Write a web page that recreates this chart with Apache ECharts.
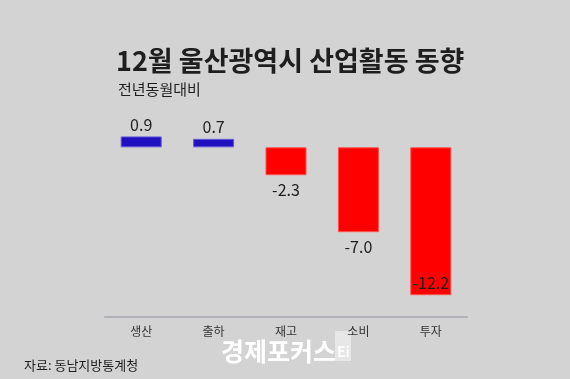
<!DOCTYPE html>
<html><head><meta charset="utf-8">
<script src="https://cdn.jsdelivr.net/npm/echarts@6/dist/echarts.min.js"></script>
<style>html,body{margin:0;padding:0;background:#d3d3d3}#c{width:570px;height:379px}</style>
</head><body><div id="c"></div>
<script>
const categories = ['생산', '출하', '재고', '소비', '투자'];
const values = [0.9, 0.7, -2.3, -7.0, -12.2];
const valueLabels = ['0.9', '0.7', '-2.3', '-7.0', '-12.2'];
const titleText = '12월 울산광역시 산업활동 동향';
const subtitleText = '전년동월대비';
const sourceText = '자료: 동남지방통계청';
const watermarkText = '경제포커스';

const FONT = '"Noto Sans CJK KR", "Noto Sans", sans-serif';
const chart = echarts.init(document.getElementById('c'));
const barData = values.map((v, i) => {
  const pos = v >= 0;
  const last = i === values.length - 1;
  return {
    value: v,
    itemStyle: pos ? { color: '#2010bf', borderColor: '#6458d8', borderWidth: 1 } : { color: '#ff0000', borderColor: '#ff5050', borderWidth: 1 },
    label: {
      show: true,
      formatter: valueLabels[i],
      position: pos ? 'top' : (last ? 'insideBottom' : 'bottom'),
      distance: pos ? 4 : (last ? 4 : 7),
      color: '#1e1e1e',
      fontSize: 16,
      fontFamily: FONT
    }
  };
});
chart.setOption({
  backgroundColor: '#d3d3d3',
  animation: false,
  title: [
    { text: titleText, left: 111, top: 42, textStyle: { fontSize: 27, fontWeight: 'bold', color: '#1e1e1e', fontFamily: FONT } },
    { text: subtitleText, left: 113, top: 77, textStyle: { fontSize: 15, fontWeight: 'normal', color: '#1e1e1e', fontFamily: FONT } },
    { text: sourceText, left: 19, top: 354, textStyle: { fontSize: 13, fontWeight: 'normal', color: '#1e1e1e', fontFamily: FONT } },
    { text: watermarkText, left: 216, top: 334, textStyle: { fontSize: 25, fontWeight: 'bold', color: '#ffffff', fontFamily: FONT } }
  ],
  graphic: [
    { type: 'rect', left: 335, top: 331, shape: { width: 16, height: 30 }, style: { fill: 'rgba(255,255,255,0.45)' } },
    { type: 'text', left: 337, top: 345, style: { text: 'Ei', fill: 'rgba(255,255,255,0.85)', font: 'bold 14px ' + FONT } }
  ],
  grid: [
    { left: 105, width: 362, top: 123.1, height: 193.9, containLabel: false }
  ],
  xAxis: [
    { type: 'category', data: categories, position: 'bottom',
      axisLine: { show: true, onZero: false, lineStyle: { color: '#b3b1b8', width: 2 } },
      axisTick: { show: false },
      axisLabel: { color: '#333', fontSize: 12, fontFamily: FONT, margin: 8 } }
  ],
  yAxis: [
    { type: 'value', min: -14, max: 2, show: false }
  ],
  series: [
    { type: 'bar', data: barData, barWidth: 41 }
  ]
});
</script></body></html>
